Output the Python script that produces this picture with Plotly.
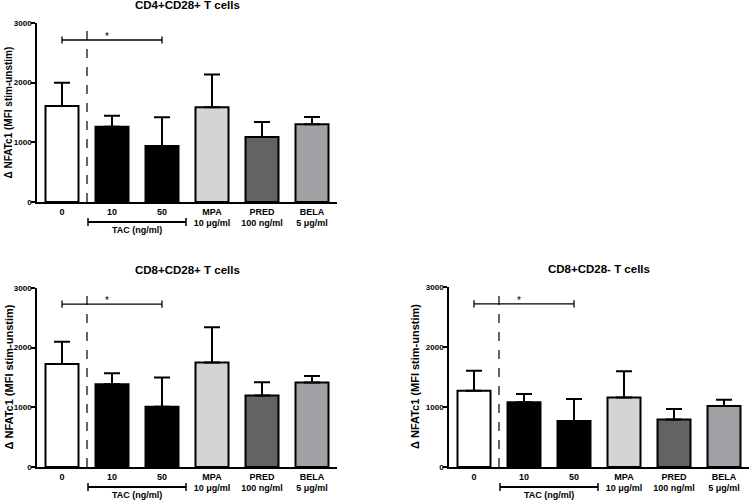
import plotly.graph_objects as go

# ---------------- data ----------------
categories = ["0", "10", "50", "MPA", "PRED", "BELA"]
sublabels = ["", "", "", "10 μg/ml", "100 ng/ml", "5 μg/ml"]
bar_colors = ["#ffffff", "#000000", "#000000", "#d4d4d4", "#636363", "#a2a2a6"]

titles = ["CD4+CD28+ T cells", "CD8+CD28+ T cells", "CD8+CD28- T cells"]
means = [
    [1610, 1260, 940, 1590, 1090, 1305],
    [1725, 1385, 1010, 1750, 1200, 1415],
    [1270, 1080, 768, 1160, 792, 1015],
]
errors = [
    [390, 185, 480, 545, 250, 120],
    [375, 187, 488, 591, 221, 112],
    [335, 136, 364, 435, 173, 105],
]
sig_level = [2715, 2730, 2720]      # height of the significance bracket
sig_from, sig_to = 0, 2              # compared groups (0 vs TAC 50)
tac_span = (0.52, 2.48)              # TAC group underline (category units)
y_ticks = [0, 1000, 2000, 3000]
y_title = "Δ NFATc1 (MFI stim-unstim)"

# ---------------- layout of the panels ----------------
W, H = 750, 500
panels = [  # (x0, x1, ytop, ybottom, ytitle_x, ytitle_size)
    (37, 337, 23, 202, 8, 10),
    (37, 337, 288, 467, 8, 11),
    (449, 749, 287, 467, 415, 11),
]

FONT = "Arial, Liberation Sans, sans-serif"
fig = go.Figure()
layout = dict(width=W, height=H, margin=dict(l=0, r=0, t=0, b=0, pad=0),
              paper_bgcolor="white", plot_bgcolor="white", showlegend=False,
              font=dict(family=FONT, color="black"))
shapes, annotations = [], []

ticktext = [f"<b>{c}</b>" + (f"<br><b>{s}</b>" if s else "") for c, s in zip(categories, sublabels)]
xpos = list(range(len(categories)))

for i, (x0, x1, yt, yb, tx, tsize) in enumerate(panels):
    n = "" if i == 0 else str(i + 1)
    xa, ya = "x" + n, "y" + n
    fig.add_trace(go.Bar(
        x=xpos, y=means[i], width=0.66, xaxis=xa, yaxis=ya,
        marker=dict(color=bar_colors, line=dict(color="black", width=2)),
        error_y=dict(type="data", array=errors[i], arrayminus=[0] * 6, symmetric=False,
                     color="black", thickness=2, width=8),
    ))
    layout["xaxis" + n] = dict(
        domain=[x0 / W, x1 / W], anchor=ya, range=[-0.5, 5.5],
        tickvals=xpos, ticktext=ticktext, ticks="", showline=True,
        linecolor="black", linewidth=1.6, showgrid=False, zeroline=False,
        tickfont=dict(size=9, family=FONT), fixedrange=True, automargin=False)
    layout["yaxis" + n] = dict(
        domain=[1 - yb / H, 1 - yt / H], anchor=xa, range=[0, 3000],
        tickvals=y_ticks, ticktext=[f"<b>{v}</b>" for v in y_ticks],
        ticks="outside", ticklen=4, tickwidth=1.5, tickcolor="black",
        ticklabelstandoff=-2,
        showline=True, linecolor="black", linewidth=1.6, showgrid=False,
        zeroline=False, tickfont=dict(size=8, family=FONT), fixedrange=True,
        automargin=False)

    # dashed separator between control and treatments
    shapes.append(dict(type="line", xref=xa, yref=ya, x0=0.5, x1=0.5, y0=0, y1=3000,
                       line=dict(color="black", width=1.2, dash="dash")))
    # significance bracket
    s = sig_level[i]
    shapes.append(dict(type="line", xref=xa, yref=ya, x0=sig_from, x1=sig_to, y0=s, y1=s,
                       line=dict(color="black", width=1.3)))
    for xx in (sig_from, sig_to):
        shapes.append(dict(type="line", xref=xa, yref=ya, x0=xx, x1=xx, y0=s - 60, y1=s + 60,
                           line=dict(color="black", width=1.3)))
    annotations.append(dict(xref=xa, yref=ya, x=0.9, y=s + 60, text="*", showarrow=False,
                            font=dict(size=10, family=FONT), yanchor="middle"))
    # TAC group underline
    ph = yb - yt
    yl = -20 / ph
    d0, d1 = (tac_span[0] + 0.5) / 6, (tac_span[1] + 0.5) / 6
    shapes.append(dict(type="line", xref=xa + " domain", yref=ya + " domain",
                       x0=d0, x1=d1, y0=yl, y1=yl, line=dict(color="black", width=1.8)))
    for dd in (d0, d1):
        shapes.append(dict(type="line", xref=xa + " domain", yref=ya + " domain",
                           x0=dd, x1=dd, y0=yl - 4 / ph, y1=yl + 4 / ph,
                           line=dict(color="black", width=1.5)))
    annotations.append(dict(xref=xa + " domain", yref=ya + " domain", x=(d0 + d1) / 2,
                            y=-27.5 / ph, text="<b>TAC (ng/ml)</b>", showarrow=False,
                            yanchor="middle", font=dict(size=9, family=FONT)))
    # panel title
    annotations.append(dict(xref=xa + " domain", yref=ya + " domain", x=0.5, y=1 + 18 / ph,
                            text=f"<b>{titles[i]}</b>", showarrow=False, yanchor="middle",
                            font=dict(size=11.5, family=FONT)))
    # y-axis title
    annotations.append(dict(xref="paper", yref=ya + " domain", x=tx / W, y=0.5,
                            text=f"<b>{y_title}</b>", textangle=-90, showarrow=False,
                            xanchor="center", yanchor="middle",
                            font=dict(size=tsize, family=FONT)))

layout["shapes"] = shapes
layout["annotations"] = annotations
fig.update_layout(**layout)
fig.write_html("out.html", config={"displayModeBar": False},
               post_script="document.body.style.margin='0';document.body.style.overflow='hidden';")
